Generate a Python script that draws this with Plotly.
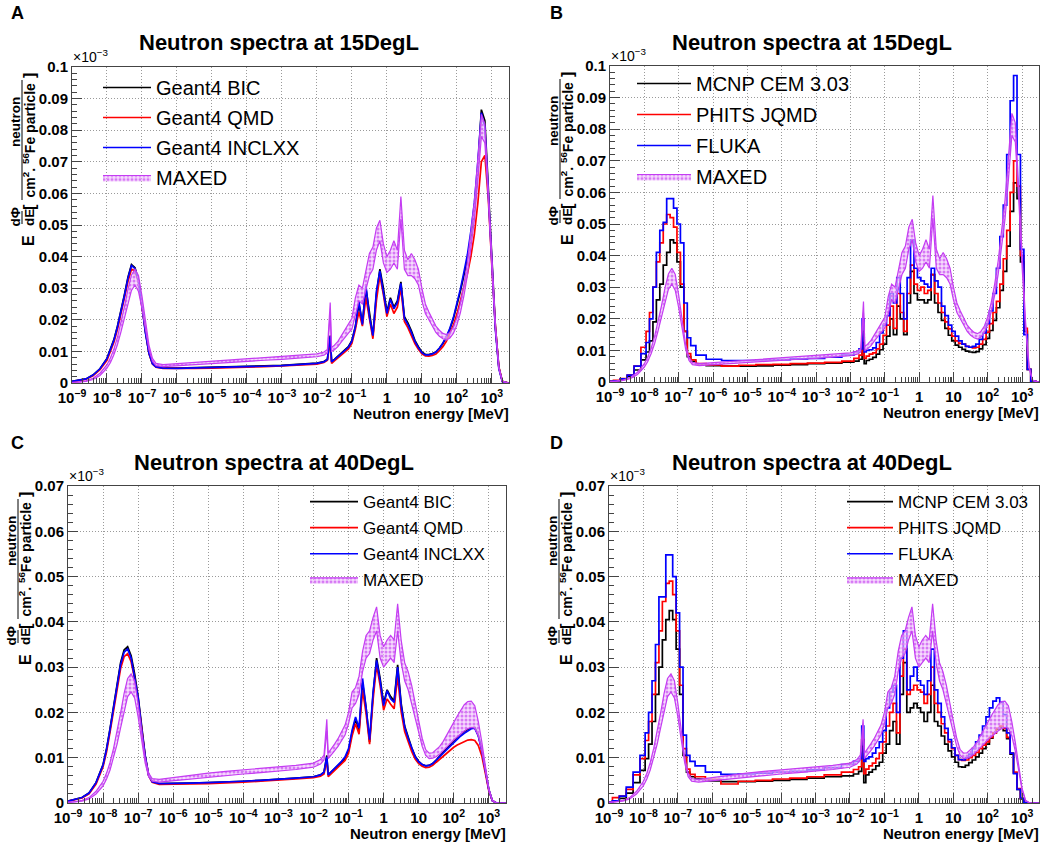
import plotly.graph_objects as go

log_energy = [
    -9.0, -8.8, -8.6, -8.4, -8.2, -8.0, -7.9, -7.8, -7.7, -7.6,
    -7.5, -7.4, -7.3, -7.2, -7.1, -7.0, -6.9, -6.8, -6.7, -6.6,
    -6.4, -6.0, -5.5, -5.0, -4.5, -4.0, -3.5, -3.0, -2.5, -2.0,
    -1.8, -1.7, -1.62, -1.58, -1.5, -1.4, -1.3, -1.2, -1.1, -1.0,
    -0.9, -0.8, -0.7, -0.6, -0.5, -0.4, -0.3, -0.2, -0.1, 0.0,
    0.1, 0.2, 0.3, 0.4, 0.5, 0.6, 0.7, 0.8, 0.9, 1.0,
    1.1, 1.2, 1.3, 1.4, 1.5, 1.6, 1.7, 1.8, 1.9, 2.0,
    2.1, 2.2, 2.3, 2.4, 2.5, 2.6, 2.7, 2.8, 2.9, 3.0,
    3.1, 3.2, 3.3, 3.48,
]
energy = [10 ** v for v in log_energy]

# ---- 15DegL (x 1e-3) ----
bic_15 = [
    0.0005, 0.0008, 0.0013, 0.0025, 0.0045, 0.0078, 0.0105, 0.0138, 0.018, 0.0228,
    0.028, 0.0335, 0.0375, 0.0365, 0.0325, 0.0245, 0.016, 0.0095, 0.0062, 0.0052,
    0.0048, 0.0047, 0.0048, 0.0049, 0.005, 0.0052, 0.0054, 0.0056, 0.006, 0.0063,
    0.0068, 0.0075, 0.015, 0.0068, 0.0075, 0.0085, 0.0095, 0.0105, 0.0115, 0.0135,
    0.018, 0.025, 0.019, 0.03, 0.022, 0.0148, 0.028, 0.036, 0.03, 0.0225,
    0.027, 0.024, 0.026, 0.032, 0.021, 0.019, 0.0165, 0.0135, 0.0115, 0.0098,
    0.009, 0.009, 0.0093, 0.0098, 0.011, 0.0125, 0.0145, 0.017, 0.0203, 0.0245,
    0.029, 0.034, 0.039, 0.046, 0.055, 0.068, 0.0865, 0.083, 0.062, 0.038,
    0.018, 0.005, 0.0005, 0.0,
]
qmd_15 = [
    0.0004, 0.0007, 0.0012, 0.0023, 0.0042, 0.0072, 0.0098, 0.013, 0.017, 0.0217,
    0.027, 0.0322, 0.036, 0.0355, 0.0318, 0.024, 0.0158, 0.0093, 0.006, 0.005,
    0.0046, 0.0045, 0.0046, 0.0047, 0.0048, 0.005, 0.0052, 0.0054, 0.0057, 0.006,
    0.0065, 0.0072, 0.0135, 0.0062, 0.007, 0.008, 0.009, 0.0098, 0.0108, 0.0125,
    0.017, 0.0225, 0.018, 0.027, 0.02, 0.014, 0.026, 0.034, 0.028, 0.021,
    0.025, 0.022, 0.024, 0.03, 0.0195, 0.0175, 0.015, 0.0125, 0.0107, 0.0092,
    0.0086, 0.0085, 0.0087, 0.0092, 0.0102, 0.0115, 0.0132, 0.0155, 0.0183, 0.0218,
    0.0258, 0.03, 0.0345, 0.04, 0.047, 0.057, 0.07, 0.072, 0.058, 0.037,
    0.018, 0.005, 0.0005, 0.0,
]
incl_15 = [
    0.0005, 0.0008, 0.0013, 0.0025, 0.0045, 0.0077, 0.0104, 0.0136, 0.0178, 0.0225,
    0.0277, 0.0332, 0.0372, 0.0362, 0.0322, 0.0243, 0.0159, 0.0094, 0.0061, 0.0051,
    0.0047, 0.0046, 0.0047, 0.0048, 0.0049, 0.0051, 0.0053, 0.0055, 0.0059, 0.0062,
    0.0067, 0.0074, 0.0148, 0.0067, 0.0074, 0.0084, 0.0094, 0.0103, 0.0113, 0.0132,
    0.0178, 0.026, 0.0185, 0.031, 0.021, 0.015, 0.029, 0.0355, 0.029, 0.022,
    0.0265, 0.0235, 0.0255, 0.0315, 0.0205, 0.0185, 0.016, 0.0132, 0.0112, 0.0096,
    0.0089, 0.0089, 0.0092, 0.0098, 0.011, 0.0126, 0.0147, 0.0173, 0.0207, 0.025,
    0.0297, 0.035, 0.0405, 0.048, 0.057, 0.07, 0.0855, 0.081, 0.06, 0.037,
    0.017, 0.0045, 0.0004, 0.0,
]
mcnp_15 = [
    0.0002, 0.0004, 0.0009, 0.0018, 0.0038, 0.007, 0.0095, 0.013, 0.019, 0.026,
    0.031, 0.037, 0.041, 0.045, 0.044, 0.038, 0.03, 0.016, 0.008, 0.0065,
    0.0057, 0.0052, 0.005, 0.005, 0.0051, 0.0053, 0.0055, 0.0058, 0.006, 0.0063,
    0.0066, 0.0072, 0.0125, 0.0058, 0.0068, 0.0072, 0.0078, 0.0088, 0.0102, 0.012,
    0.0145, 0.02, 0.015, 0.024, 0.02, 0.015, 0.025, 0.035, 0.028, 0.026,
    0.026, 0.025, 0.026, 0.034, 0.025, 0.022, 0.0195, 0.017, 0.0148, 0.013,
    0.0117, 0.011, 0.0103, 0.0098, 0.0095, 0.0094, 0.0096, 0.0105, 0.0118, 0.0138,
    0.0163, 0.0195, 0.0235, 0.029, 0.035, 0.043, 0.054, 0.063, 0.058, 0.038,
    0.016, 0.004, 0.0003, 0.0,
]
phits_15 = [
    0.0002, 0.0005, 0.0011, 0.0022, 0.005, 0.011, 0.016, 0.022, 0.03, 0.038,
    0.044, 0.05, 0.053, 0.052, 0.049, 0.041, 0.031, 0.016, 0.009, 0.007,
    0.0058, 0.0054, 0.005, 0.0053, 0.0055, 0.0056, 0.0058, 0.006, 0.0062, 0.0066,
    0.0075, 0.0085, 0.016, 0.0075, 0.0082, 0.0088, 0.0092, 0.0105, 0.012, 0.0148,
    0.018, 0.024, 0.017, 0.028, 0.022, 0.016, 0.028, 0.037, 0.031, 0.029,
    0.03, 0.028, 0.029, 0.034, 0.028, 0.025, 0.022, 0.019, 0.0168, 0.0145,
    0.013, 0.0122, 0.012, 0.0113, 0.011, 0.0108, 0.011, 0.012, 0.0135, 0.0158,
    0.0185, 0.022, 0.0255, 0.031, 0.039, 0.048, 0.06, 0.07, 0.062, 0.04,
    0.017, 0.004, 0.0003, 0.0,
]
fluka_15 = [
    0.0002, 0.0004, 0.001, 0.0022, 0.005, 0.009, 0.0125, 0.02, 0.03, 0.041,
    0.048, 0.0505, 0.058, 0.058, 0.055, 0.05, 0.044, 0.025, 0.014, 0.0115,
    0.0085, 0.0072, 0.0068, 0.0068, 0.007, 0.0071, 0.0073, 0.0075, 0.0079, 0.0085,
    0.0095, 0.0105, 0.02, 0.0095, 0.01, 0.0102, 0.0108, 0.0125, 0.0155, 0.018,
    0.021, 0.028, 0.025, 0.033, 0.028, 0.02, 0.033, 0.045, 0.036, 0.033,
    0.032, 0.031, 0.03, 0.036, 0.032, 0.03, 0.024, 0.021, 0.018, 0.016,
    0.0145, 0.013, 0.012, 0.0113, 0.011, 0.0113, 0.012, 0.0135, 0.0155, 0.0185,
    0.0225, 0.028, 0.036, 0.046, 0.056, 0.072, 0.089, 0.097, 0.072, 0.042,
    0.015, 0.004, 0.0003, 0.0,
]
maxed_15_lo = [
    0.0001, 0.0002, 0.0005, 0.0011, 0.0024, 0.0047, 0.0065, 0.009, 0.0122, 0.0162,
    0.0208, 0.0255, 0.0293, 0.031, 0.029, 0.0235, 0.0165, 0.0105, 0.0068, 0.0055,
    0.0052, 0.0055, 0.0059, 0.0063, 0.0066, 0.0069, 0.0072, 0.0075, 0.0079, 0.0083,
    0.0088, 0.0095, 0.022, 0.01, 0.0105, 0.0115, 0.013, 0.0145, 0.0158, 0.017,
    0.022, 0.026, 0.025, 0.03, 0.034, 0.036, 0.042, 0.045, 0.038, 0.035,
    0.036, 0.038, 0.036, 0.052, 0.036, 0.034, 0.034, 0.033, 0.031, 0.026,
    0.022, 0.02, 0.018, 0.016, 0.0148, 0.014, 0.0136, 0.0142, 0.0157, 0.0183,
    0.0222, 0.0275, 0.034, 0.042, 0.0515, 0.064, 0.078, 0.076, 0.058, 0.036,
    0.017, 0.0045, 0.0004, 0.0,
]
maxed_15_hi = [
    0.0002, 0.0003, 0.0007, 0.0015, 0.0031, 0.0058, 0.008, 0.0108, 0.0145, 0.019,
    0.0242, 0.0297, 0.0342, 0.036, 0.034, 0.0275, 0.0192, 0.012, 0.0078, 0.0062,
    0.0058, 0.0061, 0.0066, 0.007, 0.0074, 0.0077, 0.008, 0.0083, 0.0087, 0.0092,
    0.0098, 0.0106, 0.0255, 0.0112, 0.012, 0.0132, 0.015, 0.0168, 0.0185, 0.0205,
    0.027, 0.031, 0.03, 0.0355, 0.041, 0.043, 0.049, 0.0515, 0.044, 0.04,
    0.042, 0.045, 0.042, 0.059, 0.042, 0.039, 0.041, 0.039, 0.036, 0.03,
    0.025, 0.0225, 0.02, 0.018, 0.0167, 0.0157, 0.0153, 0.016, 0.0177, 0.0207,
    0.0252, 0.031, 0.0382, 0.047, 0.0575, 0.071, 0.085, 0.082, 0.063, 0.04,
    0.019, 0.0052, 0.0006, 0.0,
]

# ---- 40DegL (x 1e-3) ----
bic_40 = [
    0.0004, 0.0008, 0.0012, 0.0022, 0.0045, 0.0085, 0.012, 0.0165, 0.0215, 0.0265,
    0.031, 0.0338, 0.0345, 0.0325, 0.0285, 0.0235, 0.0165, 0.0105, 0.0062, 0.0048,
    0.0043, 0.0043, 0.0044, 0.0045, 0.0046, 0.0048, 0.005, 0.0052, 0.0055, 0.0058,
    0.0062, 0.0068, 0.0105, 0.0062, 0.0068, 0.0075, 0.0082, 0.009, 0.0098, 0.0115,
    0.0155, 0.0185, 0.016, 0.0265, 0.021, 0.0135, 0.024, 0.032, 0.0275, 0.022,
    0.025, 0.0235, 0.0225, 0.0305, 0.022, 0.017, 0.0145, 0.0122, 0.0103, 0.0092,
    0.0085, 0.0082, 0.0083, 0.0087, 0.0095, 0.0104, 0.0113, 0.0122, 0.013, 0.0138,
    0.0145, 0.0152, 0.0158, 0.0163, 0.0166, 0.0167, 0.015, 0.0118, 0.0072, 0.003,
    0.0005, 0.0001, 0.0, 0.0,
]
qmd_40 = [
    0.0004, 0.0007, 0.0011, 0.002, 0.0042, 0.008, 0.0113, 0.0157, 0.0205, 0.0253,
    0.0297, 0.0323, 0.033, 0.0312, 0.0275, 0.0228, 0.016, 0.0102, 0.006, 0.0046,
    0.0041, 0.0041, 0.0042, 0.0043, 0.0044, 0.0046, 0.0048, 0.005, 0.0053, 0.0056,
    0.0059, 0.0064, 0.0095, 0.0058, 0.0064, 0.0071, 0.0078, 0.0086, 0.0094, 0.011,
    0.0148, 0.0175, 0.0152, 0.025, 0.0198, 0.013, 0.0228, 0.0305, 0.026, 0.0205,
    0.023, 0.0218, 0.0208, 0.028, 0.0202, 0.0158, 0.0135, 0.0114, 0.0097, 0.0087,
    0.0081, 0.0078, 0.0079, 0.0083, 0.009, 0.0097, 0.0104, 0.0111, 0.0117, 0.0123,
    0.0128, 0.0132, 0.0136, 0.0139, 0.014, 0.0138, 0.0127, 0.0104, 0.0066, 0.0027,
    0.0005, 0.0001, 0.0, 0.0,
]
incl_40 = [
    0.0004, 0.0008, 0.0012, 0.0022, 0.0045, 0.0084, 0.0119, 0.0163, 0.0212, 0.0262,
    0.0306, 0.0333, 0.034, 0.032, 0.028, 0.0232, 0.0163, 0.0104, 0.0061, 0.0047,
    0.0043, 0.0043, 0.0044, 0.0045, 0.0046, 0.0048, 0.005, 0.0052, 0.0055, 0.0058,
    0.0062, 0.0068, 0.0102, 0.0062, 0.0068, 0.0075, 0.0083, 0.0092, 0.0102, 0.012,
    0.016, 0.019, 0.0165, 0.0275, 0.021, 0.014, 0.0245, 0.0315, 0.027, 0.0215,
    0.0248, 0.023, 0.0222, 0.03, 0.0215, 0.0168, 0.0143, 0.012, 0.0102, 0.0091,
    0.0085, 0.0082, 0.0083, 0.0087, 0.0094, 0.0102, 0.011, 0.0118, 0.0126, 0.0134,
    0.0141, 0.0148, 0.0154, 0.016, 0.0164, 0.0165, 0.0148, 0.0116, 0.0071, 0.0029,
    0.0005, 0.0001, 0.0, 0.0,
]
mcnp_40 = [
    0.0001, 0.0004, 0.001, 0.0022, 0.0045, 0.0072, 0.0098, 0.013, 0.018, 0.024,
    0.03, 0.036, 0.0405, 0.0425, 0.0405, 0.034, 0.024, 0.0105, 0.0068, 0.0058,
    0.0053, 0.0049, 0.0047, 0.0047, 0.0048, 0.005, 0.0052, 0.0055, 0.0058, 0.006,
    0.0064, 0.007, 0.0125, 0.0045, 0.0062, 0.0068, 0.0074, 0.0082, 0.009, 0.011,
    0.013, 0.016, 0.018, 0.013, 0.024, 0.031, 0.02, 0.021, 0.022, 0.021,
    0.02, 0.018, 0.02, 0.026, 0.018, 0.017, 0.0148, 0.013, 0.0115, 0.0102,
    0.009, 0.008, 0.0079, 0.0083, 0.0089, 0.0095, 0.0102, 0.011, 0.012, 0.013,
    0.0143, 0.0155, 0.0163, 0.0167, 0.016, 0.0142, 0.0108, 0.0066, 0.003, 0.0009,
    0.0001, 0.0, 0.0, 0.0,
]
phits_40 = [
    0.0002, 0.0012, 0.0015, 0.003, 0.0062, 0.0098, 0.0138, 0.018, 0.024, 0.031,
    0.038, 0.0445, 0.0485, 0.049, 0.046, 0.038, 0.026, 0.012, 0.0075, 0.0063,
    0.0058, 0.0052, 0.0042, 0.0048, 0.005, 0.0053, 0.0055, 0.0058, 0.0062, 0.0068,
    0.0074, 0.008, 0.014, 0.0065, 0.0075, 0.0082, 0.0088, 0.0098, 0.011, 0.0135,
    0.017, 0.02, 0.022, 0.0155, 0.028, 0.034, 0.024, 0.025, 0.026, 0.025,
    0.0245, 0.022, 0.024, 0.03, 0.022, 0.02, 0.0175, 0.0155, 0.0135, 0.012,
    0.0105, 0.0096, 0.0094, 0.0095, 0.01, 0.0105, 0.0112, 0.012, 0.0128, 0.0135,
    0.0145, 0.0155, 0.0165, 0.017, 0.0165, 0.0145, 0.011, 0.0068, 0.0032, 0.001,
    0.0001, 0.0, 0.0, 0.0,
]
fluka_40 = [
    0.0002, 0.0005, 0.0015, 0.0035, 0.0068, 0.0105, 0.0155, 0.02, 0.027, 0.035,
    0.0455, 0.0455, 0.0548, 0.0548, 0.05, 0.042, 0.03, 0.015, 0.0105, 0.0092,
    0.0082, 0.0068, 0.0063, 0.0064, 0.0066, 0.0068, 0.007, 0.0073, 0.0078, 0.0085,
    0.0092, 0.0098, 0.017, 0.0092, 0.0098, 0.0102, 0.011, 0.0122, 0.0135, 0.016,
    0.021, 0.0245, 0.026, 0.02, 0.032, 0.038, 0.025, 0.028, 0.03, 0.027,
    0.026, 0.024, 0.027, 0.034, 0.025, 0.022, 0.019, 0.0165, 0.014, 0.0122,
    0.0105, 0.0096, 0.0095, 0.01, 0.0108, 0.012, 0.0135, 0.015, 0.017, 0.019,
    0.021, 0.0225, 0.0232, 0.0222, 0.0195, 0.0155, 0.011, 0.0065, 0.003, 0.001,
    0.0001, 0.0, 0.0, 0.0,
]
maxed_40_lo = [
    0.0001, 0.0002, 0.0004, 0.0009, 0.002, 0.0038, 0.0053, 0.0073, 0.0099, 0.013,
    0.0166, 0.0204, 0.0235, 0.0245, 0.0232, 0.019, 0.0135, 0.0088, 0.0058, 0.0048,
    0.0046, 0.0049, 0.0054, 0.0058, 0.0061, 0.0064, 0.0067, 0.007, 0.0074, 0.0079,
    0.0086, 0.0095, 0.016, 0.0098, 0.0105, 0.0115, 0.0125, 0.0138, 0.015, 0.0175,
    0.021, 0.022, 0.024, 0.029, 0.032, 0.033, 0.036, 0.038, 0.032, 0.03,
    0.031, 0.032, 0.031, 0.038, 0.031, 0.027, 0.025, 0.022, 0.019, 0.0155,
    0.0125, 0.0105, 0.0098, 0.0099, 0.0102, 0.0108, 0.0115, 0.0123, 0.0131, 0.0139,
    0.0146, 0.0153, 0.0159, 0.0164, 0.0167, 0.0165, 0.0148, 0.0115, 0.007, 0.0028,
    0.0005, 0.0001, 0.0, 0.0,
]
maxed_40_hi = [
    0.0002, 0.0003, 0.0006, 0.0012, 0.0026, 0.0048, 0.0066, 0.009, 0.0121, 0.0158,
    0.0199, 0.0242, 0.0275, 0.0285, 0.027, 0.022, 0.0155, 0.01, 0.0066, 0.0054,
    0.0052, 0.0056, 0.0062, 0.0066, 0.007, 0.0073, 0.0076, 0.0079, 0.0083, 0.0088,
    0.0096, 0.0106, 0.0185, 0.011, 0.0118, 0.013, 0.0142, 0.0157, 0.0172, 0.02,
    0.0245, 0.0255, 0.028, 0.0335, 0.037, 0.038, 0.041, 0.0433, 0.037, 0.0345,
    0.036, 0.037, 0.036, 0.044, 0.036, 0.031, 0.029, 0.026, 0.022, 0.0178,
    0.0143, 0.0118, 0.011, 0.0111, 0.0117, 0.0125, 0.0136, 0.0149, 0.0163, 0.0178,
    0.0192, 0.0205, 0.0217, 0.0224, 0.0225, 0.0215, 0.018, 0.0135, 0.008, 0.0032,
    0.0006, 0.0001, 0.0, 0.0,
]

g4_names = ["Geant4 BIC", "Geant4 QMD", "Geant4 INCLXX"]
code_names = ["MCNP CEM 3.03", "PHITS JQMD", "FLUKA"]

x_tickvals = [1e-9, 1e-8, 1e-7, 1e-6, 1e-5, 1e-4, 1e-3, 1e-2, 1e-1, 1, 10, 100, 1000]
x_ticktext = ["10<sup>−9</sup>", "10<sup>−8</sup>", "10<sup>−7</sup>", "10<sup>−6</sup>",
              "10<sup>−5</sup>", "10<sup>−4</sup>", "10<sup>−3</sup>", "10<sup>−2</sup>",
              "10<sup>−1</sup>", "1", "10", "10<sup>2</sup>", "10<sup>3</sup>"]
y_ticks_15 = [0, 0.01, 0.02, 0.03, 0.04, 0.05, 0.06, 0.07, 0.08, 0.09, 0.1]
y_labels_15 = ["0", "0.01", "0.02", "0.03", "0.04", "0.05", "0.06", "0.07", "0.08", "0.09", "0.1"]
y_ticks_40 = [0, 0.01, 0.02, 0.03, 0.04, 0.05, 0.06, 0.07]
y_labels_40 = ["0", "0.01", "0.02", "0.03", "0.04", "0.05", "0.06", "0.07"]

W, H = 1052, 844
FONT = "Liberation Sans"
COLORS = ["#000000", "#ff0000", "#0000ff"]
MAXED_LINE = "#c43cf2"
FRAME = "#444444"


def fx(px):
    return px / W


def fy(py):
    return 1 - py / H


# frame in window pixels: left, right, top, bottom
panels = [
    dict(letter="A", letter_x=17, title="Neutron spectra at 15DegL", title_x=279,
         box=(72, 509, 67, 383), yt=y_ticks_15, yl=y_labels_15,
         names=g4_names, series=[bic_15, qmd_15, incl_15], lo=maxed_15_lo, hi=maxed_15_hi,
         shape="linear", leg=(98, 68, 20, 1, 48)),
    dict(letter="B", letter_x=556, title="Neutron spectra at 15DegL", title_x=812,
         box=(610, 1039, 66, 382), yt=y_ticks_15, yl=y_labels_15,
         names=code_names, series=[mcnp_15, phits_15, fluka_15], lo=maxed_15_lo, hi=maxed_15_hi,
         shape="hvh", leg=(632, 64, 20, 2, 54)),
    dict(letter="C", letter_x=17, title="Neutron spectra at 40DegL", title_x=274,
         box=(68, 506, 486, 803), yt=y_ticks_40, yl=y_labels_40,
         names=g4_names, series=[bic_40, qmd_40, incl_40], lo=maxed_40_lo, hi=maxed_40_hi,
         shape="linear", leg=(305, 484, 17, 1, 48)),
    dict(letter="D", letter_x=556, title="Neutron spectra at 40DegL", title_x=812,
         box=(609, 1039, 486, 803), yt=y_ticks_40, yl=y_labels_40,
         names=code_names, series=[mcnp_40, phits_40, fluka_40], lo=maxed_40_lo, hi=maxed_40_hi,
         shape="hvh", leg=(842, 484, 17, 1, 46)),
]

minor_x = [m * 10 ** k for k in range(-9, 4) for m in range(2, 10) if m * 10 ** k < 3000]

fig = go.Figure()
layout = {}


def note(text, px, py, size, bold=True, xanchor="center", yanchor="middle", angle=0):
    fig.add_annotation(text=text, x=fx(px), y=fy(py), xref="paper", yref="paper",
                       showarrow=False, xanchor=xanchor, yanchor=yanchor, textangle=angle,
                       borderpad=0,
                       font=dict(family=FONT, size=size, color="black",
                                 weight="bold" if bold else "normal"))


for i, p in enumerate(panels):
    n = "" if i == 0 else str(i + 1)
    xa, ya, lg = "x" + n, "y" + n, "legend" + n
    left, right, top, bottom = p["box"]

    for name, vals, color in zip(p["names"], p["series"], COLORS):
        fig.add_trace(go.Scatter(
            x=energy, y=vals, mode="lines", name=name,
            line=dict(color=color, width=1.7, shape=p["shape"]),
            xaxis=xa, yaxis=ya, legend=lg, legendgroup=name,
        ))
    fig.add_trace(go.Scatter(
        x=energy, y=p["lo"], mode="lines", showlegend=False,
        line=dict(color=MAXED_LINE, width=1.2),
        xaxis=xa, yaxis=ya, legend=lg, legendgroup="MAXED",
    ))
    fig.add_trace(go.Scatter(
        x=energy, y=p["hi"], mode="lines", name="MAXED", fill="tonexty",
        fillcolor="rgba(236,180,250,0.55)",
        fillpattern=dict(shape=".", fgcolor="#d678f5", bgcolor="rgba(240,195,252,0.6)",
                         size=4, solidity=0.45),
        line=dict(color=MAXED_LINE, width=1.2),
        xaxis=xa, yaxis=ya, legend=lg, legendgroup="MAXED",
    ))

    axis_common = dict(
        showline=True, mirror=True, linecolor=FRAME, linewidth=1,
        ticks="inside", ticklen=10, tickwidth=1, tickcolor=FRAME,
        tickfont=dict(family=FONT, size=15, color="black", weight="bold"),
        showgrid=True, gridcolor="#9a9a9a", griddash="1px,2px", gridwidth=1,
        zeroline=False, fixedrange=True, automargin=False,
    )
    layout["xaxis" + n] = dict(
        axis_common, type="log", range=[-9, 3.49],
        domain=[fx(left), fx(right)], anchor=ya, ticklabelstandoff=1,
        tickmode="array", tickvals=x_tickvals, ticktext=x_ticktext,
        minor=dict(tickmode="array", tickvals=minor_x, ticks="inside", ticklen=5,
                   tickcolor=FRAME, showgrid=False),
    )
    layout["yaxis" + n] = dict(
        axis_common, range=[0, p["yt"][-1]],
        domain=[fy(bottom), fy(top)], anchor=xa,
        tickmode="array", tickvals=p["yt"], ticktext=p["yl"],
        minor=dict(tickmode="linear", tick0=0, dtick=0.002, ticks="inside", ticklen=5,
                   tickcolor=FRAME, showgrid=False),
    )
    lx, ly, lfs, lgap, lw = p["leg"]
    layout[lg] = dict(
        x=fx(lx), y=fy(ly), xanchor="left", yanchor="top",
        bgcolor="rgba(0,0,0,0)", borderwidth=0, traceorder="grouped",
        tracegroupgap=lgap, itemwidth=lw,
        font=dict(family=FONT, size=lfs, color="black"),
    )

    # panel letter, title, exponent and x title
    note(p["letter"], p["letter_x"], 13 if i < 2 else top - 43, 18)
    note(p["title"], p["title_x"], top - 24, 22)
    note("×10<sup>−3</sup>", left, top - 1, 14, bold=False, xanchor="left", yanchor="bottom")
    note("Neutron energy [MeV]", right + 1, bottom + 30, 15, xanchor="right")

    # y title: E dPhi/dE [neutron / (cm2 56Fe particle)]
    note("neutron", left - 56.5, top + 55.5, 13.5, angle=-90)
    note("cm<sup>2</sup>. <sup>56</sup>Fe particle", left - 42.5, top + 73, 14, angle=-90)
    note("]", left - 43, top + 9, 16, angle=-90)
    note("[", left - 43, top + 140, 16, angle=-90)
    note("dΦ", left - 57, top + 150.5, 13.5, angle=-90)
    note("dE", left - 42.5, top + 150.5, 13.5, angle=-90)
    note("E", left - 43, top + 174, 16, angle=-90)
    for y0, y1 in [(13, 133), (144, 157)]:
        fig.add_shape(type="line", xref="paper", yref="paper",
                      x0=fx(left - 50), x1=fx(left - 50), y0=fy(top + y0), y1=fy(top + y1),
                      line=dict(color="black", width=1))

fig.update_layout(
    template="none",
    width=W, height=H, margin=dict(l=0, r=0, t=0, b=0, autoexpand=False),
    paper_bgcolor="white", plot_bgcolor="white",
    hovermode=False, **layout,
)

# drop the browser's default 8px body margin so the figure fills the window
fig.write_html("out.html", config={"displayModeBar": False},
               post_script="document.body.style.margin = '0';")
